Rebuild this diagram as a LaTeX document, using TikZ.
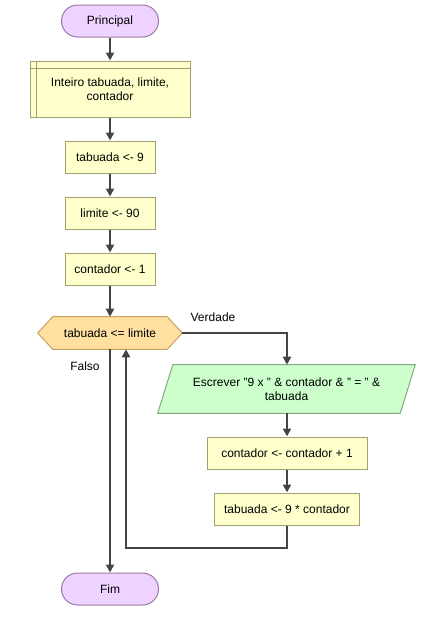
\documentclass[tikz,border=0pt]{standalone}
\usepackage{fontspec}
\setmainfont{Liberation Sans}
\usetikzlibrary{arrows.meta}
\definecolor{linegray}{HTML}{444444}
\definecolor{termfill}{HTML}{EED2FF}
\definecolor{termline}{HTML}{9A78A8}
\definecolor{procfill}{HTML}{FFFFCC}
\definecolor{procline}{HTML}{A0A070}
\definecolor{condfill}{HTML}{FFE0A0}
\definecolor{condline}{HTML}{C8A060}
\definecolor{iofill}{HTML}{CCFFCC}
\definecolor{ioline}{HTML}{80AA80}

\begin{document}
\begin{tikzpicture}[x=0.75pt,y=-0.75pt]
    \tikzset{font={\fontsize{9pt}{10.5pt}\selectfont},
      flow/.style={-{Triangle[width=6pt,length=6pt]},line width=1.5pt,draw=linegray},
      term/.style={rectangle,rounded corners=12pt,draw=termline,fill=termfill,line width=.75pt,
        minimum width=72.75pt,minimum height=24pt,inner sep=0pt},
      proc/.style={rectangle,draw=procline,fill=procfill,line width=.75pt,
        minimum width=67.5pt,minimum height=24pt,inner sep=0pt,align=center}}
    \useasboundingbox (0,0) rectangle (429,632);
    \node[term] (start) at (110,21) {Principal};
    \node[proc,minimum width=120pt,minimum height=42pt] (decl) at (110,89)
      {Inteiro tabuada, limite,\\contador};
    \draw[procline,line width=.75pt] ([xshift=5.25pt]decl.north west) -- ([xshift=5.25pt]decl.south west);
    \draw[procline,line width=.75pt] ([yshift=-6pt]decl.north west) -- ([yshift=-6pt]decl.north east);
    \node[proc] (tab9) at (110,157) {tabuada <- 9};
    \node[proc] (lim) at (110,213) {limite <- 90};
    \node[proc] (cont1) at (110,269) {contador <- 1};
    % decision
    \node[minimum width=108pt,minimum height=24pt,inner sep=0pt] (cond) at (110,333) {};
    \draw[draw=condline,fill=condfill,line width=.75pt] (cond.west) -- ([xshift=11.25pt]cond.north west)
      -- ([xshift=-11.25pt]cond.north east) -- (cond.east) -- ([xshift=-11.25pt]cond.south east)
      -- ([xshift=11.25pt]cond.south west) -- cycle;
    \node at (cond) {tabuada <= limite};
    % output
    \node[minimum width=170.25pt,minimum height=36pt,inner sep=0pt] (out) at (286.5,389) {};
    \draw[draw=ioline,fill=iofill,line width=.75pt] (out.north west) -- ([xshift=11.25pt]out.north east)
      -- (out.south east) -- ([xshift=-11.25pt]out.south west) -- cycle;
    \node[align=center] at (out) {Escrever "9 x " \& contador \& " = " \&\\tabuada};
    \node[proc,minimum width=120pt] (inc) at (287,453) {contador <- contador + 1};
    \node[proc,minimum width=108.75pt] (tabc) at (287,509) {tabuada <- 9 * contador};
    \node[term] (fim) at (110,589) {Fim};
    \coordinate (back) at (126,548);
    \draw[flow] (start) -- (decl);
    \draw[flow] (decl) -- (tab9);
    \draw[flow] (tab9) -- (lim);
    \draw[flow] (lim) -- (cont1);
    \draw[flow] (cont1) -- (cond);
    \draw[flow] (cond.east) -| (out.north -| inc.north);
    \draw[flow] (out.south -| inc.north) -- (inc);
    \draw[flow] (inc) -- (tabc);
    \draw[flow] (tabc.south) -- (tabc.south |- back) -- (back) -- (back |- cond.south);
    \draw[flow] (cond.south) -- (fim);
    \node at (213,317) {Verdade};
    \node at (85,366) {Falso};
\end{tikzpicture}
\end{document}
